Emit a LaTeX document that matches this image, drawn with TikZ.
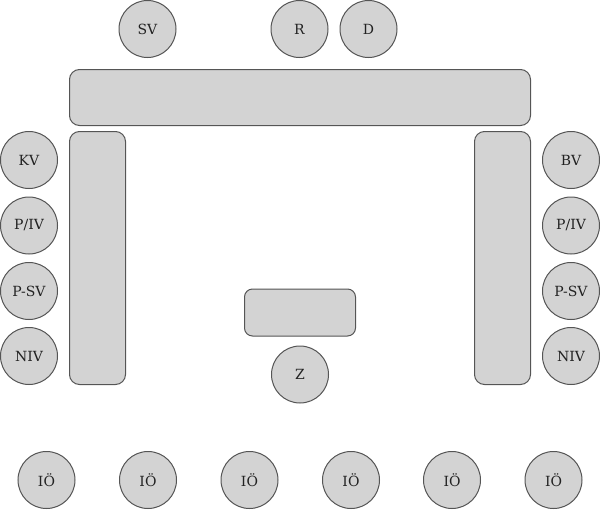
\documentclass[tikz,border=0pt]{standalone}
\usepackage{fontspec}
\setmainfont{DejaVu Serif}
\definecolor{fillgray}{HTML}{D3D3D3}
\definecolor{edgegray}{HTML}{555555}
\definecolor{textdark}{HTML}{222222}
\tikzset{
  seat/.style={circle,draw=edgegray,fill=fillgray,line width=1pt,minimum size=57pt,inner sep=0pt,text=textdark,font=\fontsize{14}{16}\selectfont},
  tablebox/.style={draw=edgegray,fill=fillgray,line width=1pt,rounded corners=10pt,inner sep=0pt}
}
\begin{document}
\begin{tikzpicture}[x=1pt,y=-1pt]
\useasboundingbox (0,0) rectangle (600,509);
% tables
\node[tablebox,minimum width=461pt,minimum height=56pt] (top) at (300,97.5) {};
\node[tablebox,minimum width=56pt,minimum height=253pt] (left) at (97.5,258) {};
\node[tablebox,minimum width=56pt,minimum height=253pt] (right) at (502.5,258) {};
\node[tablebox,minimum width=111pt,minimum height=47pt,rounded corners=8pt] (mid) at (300,312.5) {};
% top seats
\node[seat] (sv) at (147.5,29) {SV};
\node[seat] (r) at (299.5,29) {R};
\node[seat] (d) at (368.5,29) {D};
% left seats
\node[seat] (kv) at (29,160) {KV};
\node[seat] (piv1) at (29,225.5) {P/IV};
\node[seat] (psv1) at (29,291) {P-SV};
\node[seat] (niv1) at (29,356) {NIV};
% right seats
\node[seat] (bv) at (571,160) {BV};
\node[seat] (piv2) at (571,225.5) {P/IV};
\node[seat] (psv2) at (571,291) {P-SV};
\node[seat] (niv2) at (571,356) {NIV};
% Z
\node[seat] (z) at (300,374.5) {Z};
% audience
\foreach \i/\x in {1/46.5,2/148,3/249.5,4/351,5/452,6/553.5}
  \node[seat] (io\i) at (\x,480) {IÖ};
\end{tikzpicture}
\end{document}
